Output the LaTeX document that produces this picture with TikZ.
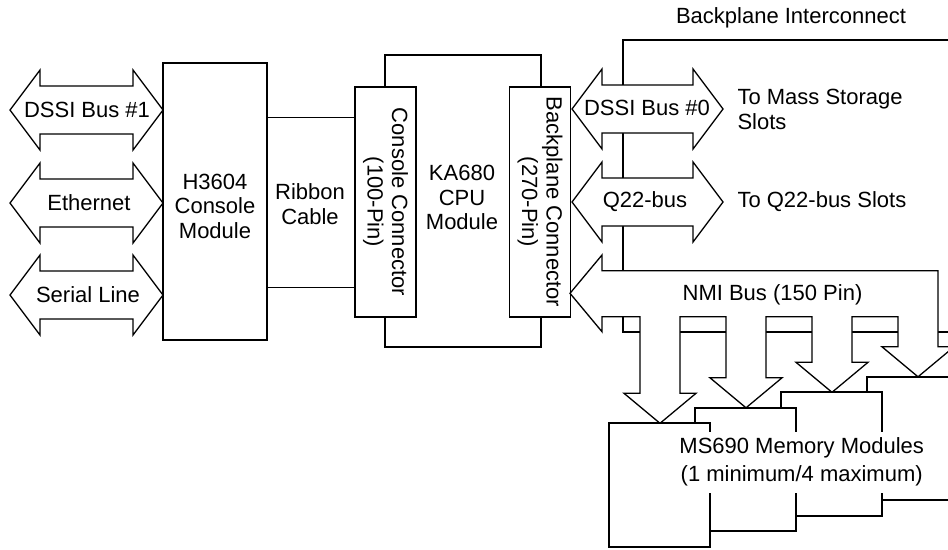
\documentclass[tikz,border=0pt]{standalone}
\usepackage{fontspec}
\setmainfont{Liberation Sans}
\tikzset{
  lbl/.style={font=\fontsize{22}{24.5}\selectfont, align=center},
  heavybox/.style={draw, line width=2pt, fill=white},
  conbox/.style={draw, line width=1.3pt, fill=white, rotate=-90,
    minimum width=230pt, minimum height=61pt, lbl},
  busline/.style={draw, line width=1.3pt, fill=white, line join=miter},
}
% double headed bus arrow: left tip x, right tip x, centre y
\newcommand{\dblbus}[3]{%
  \draw[busline] (#1,#3) -- ({#1+30},{#3-40}) -- ({#1+30},{#3-24})
    -- ({#2-30},{#3-24}) -- ({#2-30},{#3-40}) -- (#2,#3)
    -- ({#2-30},{#3+40}) -- ({#2-30},{#3+24}) -- ({#1+30},{#3+24})
    -- ({#1+30},{#3+40}) -- cycle;}
\begin{document}
\begin{tikzpicture}[x=1pt,y=-1pt]
\useasboundingbox (0,0) rectangle (948,549);
\clip (0,0) rectangle (948,549);

% backplane interconnect
\draw[line width=2pt] (960,40) -- (623.3,40) -- (623.3,331.7) -- (960,331.7);
\node[lbl] (bpi) at (791,18) {Backplane Interconnect};

% cpu module and its connectors
\node[heavybox, minimum width=156pt, minimum height=292pt] (cpu) at (463,201) {};
\node[lbl] (cpulbl) at (462,197.5) {KA680\\CPU\\Module};
\node[conbox] (cc) at (385.5,202) {Console Connector\\(100-Pin)};
\node[conbox] (bc) at (540,202) {Backplane Connector\\(270-Pin)};

% console module
\node[heavybox, minimum width=104pt, minimum height=277pt] (h3604) at (215,201.5) {};
\node[lbl] (h3604lbl) at (215,206) {H3604\\Console\\Module};
\draw[line width=1pt] (h3604.east |- 0,117) -- (cc.south |- 0,117);
\draw[line width=1pt] (h3604.east |- 0,287) -- (cc.south |- 0,287);
\node[lbl] (ribbon) at (310,204) {Ribbon\\Cable};

% left side buses
\dblbus{10}{163}{110}
\dblbus{10}{163}{203}
\dblbus{10}{163}{295}
\node[lbl] (dssi1) at (87,110) {DSSI Bus \#1};
\node[lbl] (enet) at (89,203) {Ethernet};
\node[lbl] (serial) at (88,295) {Serial Line};

% right side buses
\dblbus{572}{723}{109}
\dblbus{572}{723}{202}
\node[lbl] (dssi0) at (647,108) {DSSI Bus \#0};
\node[lbl] (qbus) at (645,202) {Q22-bus};
\node[lbl, anchor=west, align=left] (massst) at (734,109.5) {To Mass Storage\\Slots};
\node[lbl, anchor=west] (qslots) at (734,202) {To Q22-bus Slots};

% NMI bus with the four memory arrows
\draw[busline] (570,293.3) -- (602,255) -- (602,270.7) -- (938,270.7)
  -- (938,346.8) -- (954,346.8) -- (918,376.8) -- (882,346.8) -- (898,346.8)
  -- (898,316.7) -- (852,316.7) -- (852,362.3) -- (868,362.3) -- (832,392.3)
  -- (796,362.3) -- (812,362.3) -- (812,316.7) -- (766,316.7) -- (766,377.8)
  -- (782,377.8) -- (746,407.8) -- (710,377.8) -- (726,377.8) -- (726,316.7)
  -- (680,316.7) -- (680,393.3) -- (696,393.3) -- (660,423.3) -- (624,393.3)
  -- (640,393.3) -- (640,316.7) -- (602,316.7) -- (602,331.7) -- cycle;
\node[lbl] (nmi) at (772.5,295) {NMI Bus (150 Pin)};

% memory modules, back to front
\foreach \i in {3,2,1,0}
  \draw[heavybox] ({609.3+86*\i},{423.3-15.5*\i}) rectangle ++(101,123.3);
\node[lbl, fill=white, inner xsep=3pt, inner ysep=6pt] (mem) at (801.7,462)
  {MS690 Memory Modules\\[4pt](1 minimum/4 maximum)};
\end{tikzpicture}
\end{document}
